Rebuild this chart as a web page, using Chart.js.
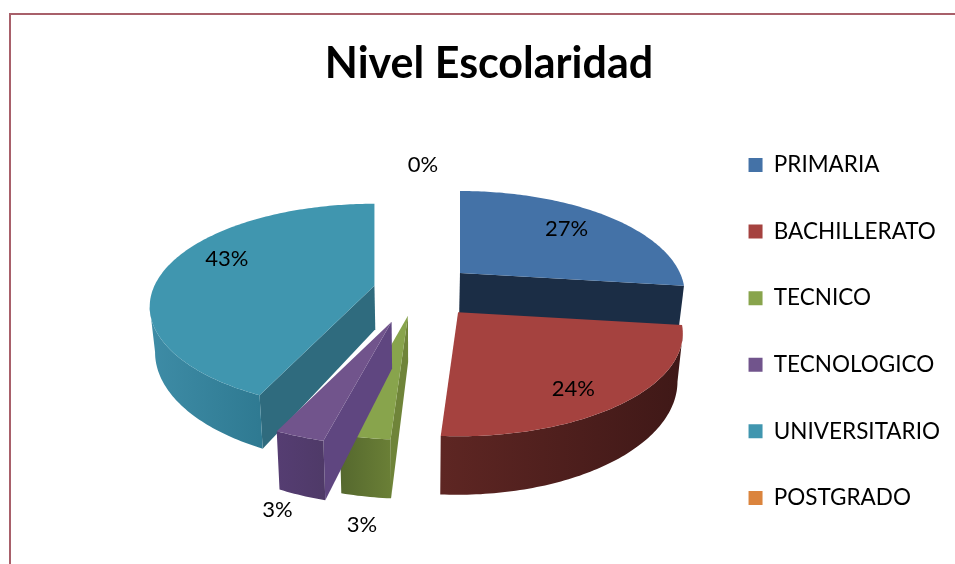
<!DOCTYPE html>
<html>
<head>
<meta charset="utf-8">
<style>
html,body{margin:0;padding:0;background:#fff;width:955px;height:564px;overflow:hidden}
#frame{position:absolute;left:9px;top:13px;right:-5px;bottom:-5px;border-top:2px solid #a8606a;border-left:2px solid #a8606a;box-sizing:border-box}
#c{position:absolute;left:0;top:0}
</style>
<script src="https://cdn.jsdelivr.net/npm/chart.js@4"></script>
</head>
<body>
<div id="frame"></div>
<canvas id="c" width="955" height="564"></canvas>
<script>
const categories = ['PRIMARIA','BACHILLERATO','TECNICO','TECNOLOGICO','UNIVERSITARIO','POSTGRADO'];
const values = [27,24,3,3,43,0];
const topColors = ['#4472a7','#a5423f','#88a44c','#71548c','#4096af','#db843d'];
const explode = [27,28,25,32,20,0];
const rimFrom = ['#1b2d45','#3f1817','#6a7f36','#4f3a68','#2f7a92','#8a5020'];
const rimTo = ['#1b2d45','#5e2623','#55682e','#553d72','#3e8ca6','#8a5020'];
const sideColors = ['#1b2d45','#451a18','#6f8439','#5f4680','#2f6b7e','#8a5020'];
const labelReach = [0.55,0.7,1,1,0.65,1.4];
const labelNudge = [[22,-11],[5,17],[-3,87],[-22,73],[-12,-13],[6,-18]];

const view = {cx:417, cy:290, kx:220, ky:98.7, q:0.204, depth:44, shrink:0.98, unit:100};

function plane(x,y){const d=1-view.q*y;return {x:view.kx*x/d,y:view.ky*y/d};}

const pie3d = {
  id:'pie3d',
  beforeDatasetDraw(chart,args){
    const ctx=chart.ctx, meta=chart.getDatasetMeta(args.index);
    const items=meta.data.map((el,i)=>{
      const mid=(el.startAngle+el.endAngle)/2, e=el.options.offset/view.unit;
      const ex=e*Math.cos(mid), ey=e*Math.sin(mid), t=plane(ex,ey);
      return {el,i,mid,ex,ey,tx:view.cx+t.x,ty:view.cy+t.y};
    }).filter(s=>s.el.endAngle-s.el.startAngle>1e-6).sort((a,b)=>a.ty-b.ty);
    const lower=(s,p)=>{
      const den=1-view.q*(s.ey+p.py);
      return {x:view.cx+(p.x-view.cx)*view.shrink,y:p.y+view.depth/den};
    };
    const poly=(list,fill)=>{
      ctx.fillStyle=fill;ctx.beginPath();
      list.forEach((p,k)=>k?ctx.lineTo(p.x,p.y):ctx.moveTo(p.x,p.y));
      ctx.closePath();ctx.fill();
    };
    for(const s of items){
      const pts=[], N=Math.max(6,Math.ceil((s.el.endAngle-s.el.startAngle)*60));
      for(let k=0;k<=N;k++){
        const a=s.el.startAngle+(s.el.endAngle-s.el.startAngle)*k/N;
        const p=plane(Math.cos(a),Math.sin(a));
        pts.push({x:s.tx+p.x,y:s.ty+p.y,py:Math.sin(a)});
      }
      const tip={x:s.tx,y:s.ty,py:0};
      const wall=(p,q,col)=>{ if(q.x<p.x) poly([p,q,lower(s,q),lower(s,p)],col); };
      wall(tip,pts[0],sideColors[s.i]);
      wall(pts[N],tip,sideColors[s.i]);
      const seen=[];
      for(let k=0;k<=N;k++){
        const fwd=k<N&&pts[k+1].x<pts[k].x, back=k>0&&pts[k].x<pts[k-1].x;
        if(fwd||back) seen.push(pts[k]);
      }
      if(seen.length>1){
        const g=ctx.createLinearGradient(seen[0].x,0,seen[seen.length-1].x,0);
        g.addColorStop(0,rimFrom[s.i]);g.addColorStop(1,rimTo[s.i]);
        poly(seen.concat(seen.slice().reverse().map(p=>lower(s,p))),g);
      }
      poly([tip].concat(pts),topColors[s.i]);
    }
    ctx.fillStyle='#000';ctx.font='22px Lato';ctx.textAlign='center';ctx.textBaseline='middle';
    const total=values.reduce((a,b)=>a+b,0);
    meta.data.forEach((el,i)=>{
      const span=el.endAngle-el.startAngle, mid=(el.startAngle+el.endAngle)/2, e=el.options.offset/view.unit;
      const t=plane(e*Math.cos(mid),e*Math.sin(mid));
      const a=span<1e-6?-Math.PI/2:mid;
      const p=plane(labelReach[i]*Math.cos(a),labelReach[i]*Math.sin(a));
      ctx.fillText(Math.round(values[i]/total*100)+'%',view.cx+t.x+p.x+labelNudge[i][0],view.cy+t.y+p.y+labelNudge[i][1]);
    });
    return false;
  }
};

new Chart(document.getElementById('c'),{
  type:'pie',
  data:{labels:categories,datasets:[{data:values,backgroundColor:topColors,offset:explode,borderWidth:0}]},
  options:{
    responsive:false,animation:false,
    layout:{padding:{left:28,right:5,top:34,bottom:0}},
    plugins:{
      tooltip:{enabled:false},
      title:{display:true,text:'Nivel Escolaridad',color:'#000',font:{family:'Lato',size:43,weight:'bold'},padding:{top:4,bottom:20}},
      legend:{position:'right',align:'start',fullSize:false,labels:{color:'#000',font:{family:'Lato',size:22.5},boxWidth:14,boxHeight:14,padding:44.1}}
    }
  },
  plugins:[pie3d]
});
</script>
</body>
</html>
